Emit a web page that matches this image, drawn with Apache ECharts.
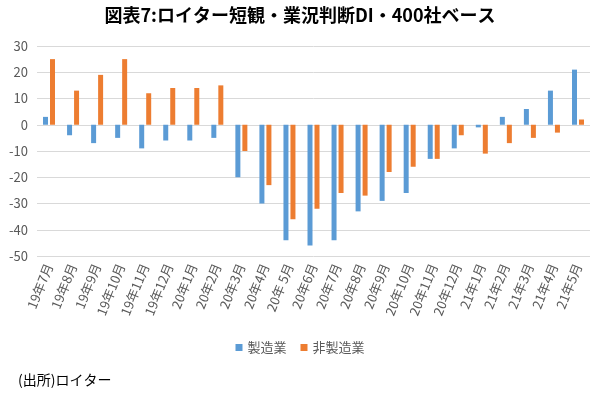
<!DOCTYPE html>
<html>
<head>
<meta charset="utf-8">
<script src="https://cdn.jsdelivr.net/npm/echarts@6/dist/echarts.min.js"></script>
<style>
  html, body { margin: 0; padding: 0; background: #fff; }
  #chart { width: 600px; height: 397px; }
</style>
</head>
<body>
<div id="chart"></div>
<script>
// 月次カテゴリ
const months = ['19年7月', '19年8月', '19年9月', '19年10月', '19年11月', '19年12月',
  '20年1月', '20年2月', '20年3月', '20年4月', '20年 5月', '20年6月', '20年7月',
  '20年8月', '20年9月', '20年10月', '20年11月', '20年12月',
  '21年1月', '21年2月', '21年3月', '21年4月', '21年5月'];
// 製造業
const manufacturing = [3, -4, -7, -5, -9, -6, -6, -5, -20, -30, -44, -46, -44,
  -33, -29, -26, -13, -9, -1, 3, 6, 13, 21];
// 非製造業
const nonManufacturing = [25, 13, 19, 25, 12, 14, 14, 15, -10, -23, -36, -32, -26,
  -27, -18, -16, -13, -4, -11, -7, -5, -3, 2];

const font = '"Noto Sans CJK JP", sans-serif';
const chart = echarts.init(document.getElementById('chart'));
chart.setOption({
  animation: false,
  title: {
    text: '図表7:ロイター短観・業況判断DI・400社ベース',
    left: 'center',
    top: 1,
    textStyle: { fontFamily: font, fontSize: 18, fontWeight: 'bold', color: '#000' }
  },
  legend: {
    bottom: 38,
    left: 'center',
    icon: 'rect',
    itemWidth: 7,
    itemHeight: 7,
    itemGap: 14,
    textStyle: { fontFamily: font, fontSize: 13, color: '#595959' }
  },
  graphic: [{
    type: 'text',
    left: 18,
    top: 373,
    style: { text: '(出所)ロイター', font: '14px ' + font, fill: '#000' }
  }],
  grid: { left: 37, right: 10, top: 46, bottom: 141 },
  xAxis: {
    type: 'category',
    data: months,
    axisLine: { show: false },
    axisTick: { show: false },
    axisLabel: {
      rotate: 68,
      interval: 0,
      margin: 8,
      fontFamily: font,
      fontSize: 13,
      color: '#595959'
    }
  },
  yAxis: {
    type: 'value',
    min: -50,
    max: 30,
    interval: 10,
    axisLine: { show: false },
    axisTick: { show: false },
    axisLabel: { fontFamily: font, fontSize: 13, color: '#595959', margin: 9 },
    splitLine: { lineStyle: { color: '#d9d9d9', width: 1 } }
  },
  series: [
    {
      name: '製造業',
      type: 'bar',
      data: manufacturing,
      barWidth: 5,
      barGap: '40%',
      itemStyle: { color: '#5B9BD5' }
    },
    {
      name: '非製造業',
      type: 'bar',
      data: nonManufacturing,
      barWidth: 5,
      itemStyle: { color: '#ED7D31' }
    }
  ]
});
</script>
</body>
</html>
